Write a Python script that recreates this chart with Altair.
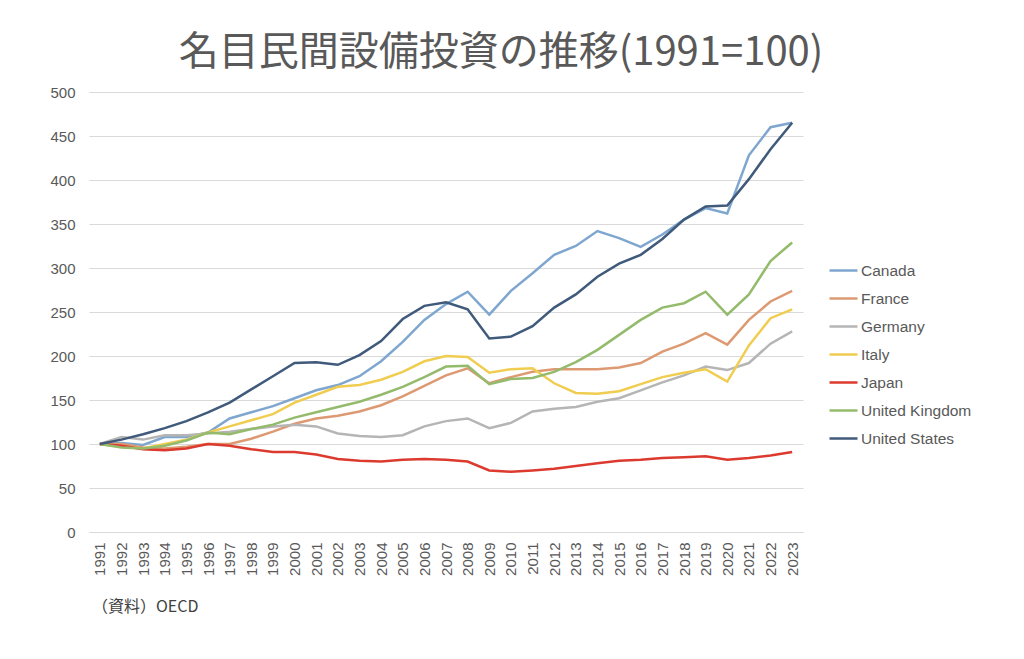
import altair as alt
import pandas as pd

years = list(range(1991, 2024))
countries = ["Canada", "France", "Germany", "Italy", "Japan", "United Kingdom", "United States"]

canada = [100, 101, 99, 108, 108, 113, 129, 136, 143, 152, 161, 167, 177, 194, 216, 241, 259, 273, 247, 274, 294, 315, 325, 342, 334, 324, 338, 355, 368, 362, 428, 460, 465]
france = [100, 100, 96, 95, 97, 100, 100, 106, 114, 123, 129, 132, 137, 144, 154, 166, 178, 186, 169, 176, 182, 185, 185, 185, 187, 192, 205, 214, 226, 213, 241, 262, 274]
germany = [100, 108, 105, 110, 110, 112, 114, 117, 120, 122, 120, 112, 109, 108, 110, 120, 126, 129, 118, 124, 137, 140, 142, 148, 152, 161, 170, 178, 188, 184, 192, 214, 228]
italy = [100, 97, 95, 100, 105, 113, 120, 127, 134, 147, 156, 165, 167, 173, 182, 194, 200, 199, 181, 185, 186, 169, 158, 157, 160, 168, 176, 181, 185, 171, 212, 243, 253]
japan = [100, 98, 94, 93, 95, 100, 98, 94, 91, 91, 88, 83, 81, 80, 82, 83, 82, 80, 70, 68.5, 70, 72, 75, 78, 81, 82, 84, 85, 86, 82, 84, 87, 91]
uk = [100, 96, 95, 98, 104, 113, 111, 117, 122, 130, 136, 142, 148, 156, 165, 176, 188, 189, 168, 174, 175, 182, 193, 207, 224, 241, 255, 260, 273, 247, 270, 308, 329]
us = [100, 105, 111, 118, 126, 136, 147, 162, 177, 192, 193, 190, 201, 217, 242, 257, 261, 253, 220, 222, 234, 255, 270, 290, 305, 315, 333, 355, 370, 371, 401, 435, 465]

colors = ["#7fa6cf", "#dd9a72", "#b5b5b5", "#f0cd50", "#dc3a2e", "#94bb6c", "#3f5a7a"]
widths = [2.5, 2.5, 2.5, 2.5, 5, 2.5, 2.5]

title_text = "名目民間設備投資の推移(1991=100)"
source_text = "（資料）OECD"

series = [canada, france, germany, italy, japan, uk, us]
rows = []
for c, vals in zip(countries, series):
    for y, v in zip(years, vals):
        rows.append({"year": str(y), "country": c, "value": v})
df = pd.DataFrame(rows)

legend_kw = dict(title=None, orient="none", legendX=739, legendY=163, padding=0,
                 symbolType="stroke", symbolSize=784, labelFontSize=15.5,
                 labelColor="#595959", labelFont="Liberation Sans", labelOffset=2,
                 rowPadding=4, labelLimit=300)

lines = alt.Chart(df).mark_line().encode(
    x=alt.X("year:O", title=None,
            axis=alt.Axis(labelAngle=-90, labelFontSize=15, labelColor="#595959",
                          labelFont="Liberation Sans",
                          ticks=False, domainColor="#d9d9d9", domainWidth=1,
                          labelPadding=10, grid=False)),
    y=alt.Y("value:Q", title=None,
            scale=alt.Scale(domain=[0, 500], nice=False),
            axis=alt.Axis(values=list(range(0, 501, 50)), labelFontSize=15,
                          labelFont="Liberation Sans",
                          labelColor="#595959", ticks=False, domain=False,
                          gridColor="#d9d9d9", gridWidth=1, labelPadding=14)),
    color=alt.Color("country:N", scale=alt.Scale(domain=countries, range=colors),
                    legend=alt.Legend(**legend_kw)),
    strokeWidth=alt.StrokeWidth("country:N", scale=alt.Scale(domain=countries, range=widths),
                                legend=alt.Legend(**legend_kw)),
)

source = alt.Chart(pd.DataFrame({"t": [source_text]})).mark_text(
    align="left", baseline="middle", fontSize=16, color="#404040",
    font="Noto Sans CJK JP"
).encode(x=alt.value(3), y=alt.value(515), text="t:N")

chart = alt.layer(lines, source).properties(
    width=714, height=440,
    autosize=alt.AutoSizeParams(type="none"),
    padding={"left": 81, "top": 84, "right": 213, "bottom": 119},
    background="white",
    title=alt.Title(title_text, fontSize=40, font="Noto Sans CJK JP", fontWeight="normal",
                    color="#595959", anchor="middle", offset=12, dx=55),
).configure_view(stroke=None)

chart.save("out.html", embed_options={"renderer": "svg", "actions": False})
